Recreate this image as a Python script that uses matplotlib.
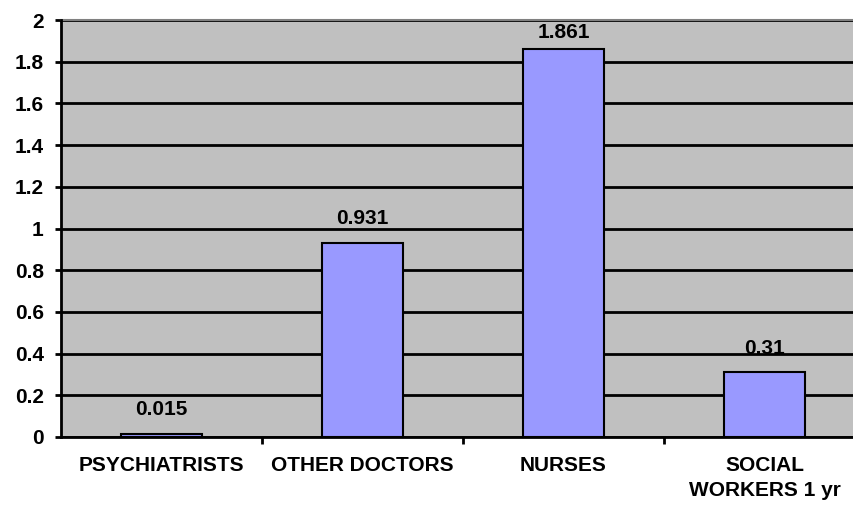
import matplotlib
matplotlib.use("Agg")
import matplotlib.pyplot as plt
import numpy as np

categories = ["PSYCHIATRISTS", "OTHER DOCTORS", "NURSES", "SOCIAL\nWORKERS 1 yr"]
values = [0.015, 0.931, 1.861, 0.31]
value_labels = ["0.015", "0.931", "1.861", "0.31"]
yticks = [0, 0.2, 0.4, 0.6, 0.8, 1, 1.2, 1.4, 1.6, 1.8, 2]
ytick_labels = ["0", "0.2", "0.4", "0.6", "0.8", "1", "1.2", "1.4", "1.6", "1.8", "2"]

plt.rcParams['font.family'] = ['Liberation Sans', 'DejaVu Sans']
plt.rcParams['font.weight'] = 'bold'

FS = 15
YMAX = 2
fig = plt.figure(figsize=(8.54, 5.08), dpi=100)
ax = fig.add_axes([61/854, 1-437/508, 804/854, (437-20)/508])
ax.set_facecolor('#C0C0C0')

x = np.arange(len(categories))
ax.set_axisbelow(True)
ax.yaxis.grid(True, color='black', linewidth=2)
ax.bar(x, values, width=0.40, color='#9999FF', edgecolor='black', linewidth=1.5, zorder=3)
for xi, v, lbl in zip(x, values, value_labels):
    if v > 0.92 * YMAX:
        # label kept inside the plot area (as in the original chart)
        ax.annotate(lbl, (xi, YMAX), xytext=(0, -2), textcoords='offset points',
                    ha='center', va='top', fontsize=FS, fontweight='bold', zorder=4)
    else:
        ax.annotate(lbl, (xi, v), xytext=(0, 10.5), textcoords='offset points',
                    ha='center', va='bottom', fontsize=FS, fontweight='bold', zorder=4)

ax.set_xlim(-0.5, len(categories) - 0.5)
ax.set_ylim(0, YMAX)
ax.set_yticks(yticks)
ax.set_yticklabels(ytick_labels, fontsize=FS, fontweight='bold')
ax.set_xticks(np.arange(0.5, len(categories) - 0.5, 1.0))
ax.set_xticklabels([])
ax.set_xticks(x, minor=True)
ax.set_xticklabels(categories, minor=True, fontsize=FS, fontweight='bold', linespacing=1.4)
ax.tick_params(axis='x', which='minor', length=0, pad=14)
ax.tick_params(axis='x', which='major', length=5, width=2, direction='out')
ax.tick_params(axis='y', length=4.5, width=2, direction='out', pad=8)

for s in ['top', 'right']:
    ax.spines[s].set_visible(False)
ax.spines['left'].set_linewidth(2)
ax.spines['bottom'].set_linewidth(2)
ax.plot([0, 1], [1, 1], transform=ax.transAxes, color='#808080', linewidth=1.5, clip_on=False)

fig.savefig('out.png', dpi=100, facecolor='white')
